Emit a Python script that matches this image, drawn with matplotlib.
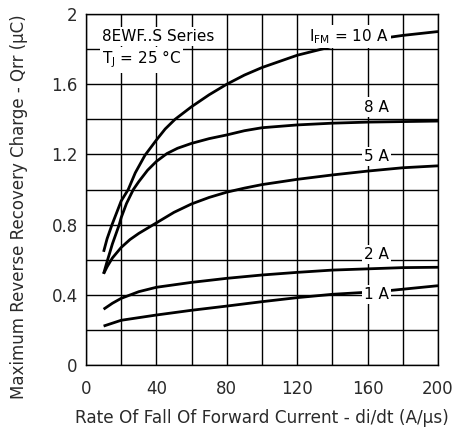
import matplotlib
matplotlib.use("Agg")
import matplotlib.pyplot as plt

# di/dt (A/us) sample points
x_10a = [10, 12, 14.8, 18, 20, 24, 28, 33.5, 40, 45, 50.6, 60, 70, 80, 90, 100, 120, 140, 160, 180, 200]
q_10a = [0.645, 0.72, 0.80, 0.883, 0.935, 1.0, 1.095, 1.195, 1.282, 1.345, 1.4, 1.472, 1.54, 1.60, 1.652, 1.695, 1.765, 1.815, 1.85, 1.878, 1.90]

x_8a = [10, 12, 15, 18.9, 20, 23, 26.9, 30, 35, 40, 46, 52, 60, 70, 80, 90, 100, 120, 140, 160, 180, 200]
q_8a = [0.52, 0.59, 0.69, 0.80, 0.84, 0.92, 1.0, 1.045, 1.11, 1.16, 1.205, 1.235, 1.263, 1.29, 1.311, 1.335, 1.352, 1.368, 1.378, 1.384, 1.387, 1.39]

x_5a = [10, 12, 15, 20, 25, 30, 35, 40, 50, 60, 70, 80, 90, 100, 120, 140, 160, 180, 200]
q_5a = [0.52, 0.56, 0.61, 0.67, 0.715, 0.75, 0.78, 0.81, 0.87, 0.918, 0.955, 0.985, 1.008, 1.028, 1.058, 1.083, 1.105, 1.124, 1.135]

x_2a = [10, 15, 20, 30, 40, 60, 80, 100, 120, 140, 160, 180, 200]
q_2a = [0.318, 0.352, 0.38, 0.418, 0.443, 0.471, 0.494, 0.513, 0.528, 0.541, 0.548, 0.555, 0.557]

x_1a = [10, 20, 40, 60, 80, 100, 120, 140, 160, 172, 200]
q_1a = [0.222, 0.255, 0.285, 0.312, 0.336, 0.361, 0.384, 0.403, 0.415, 0.424, 0.452]

x_ticks = [0, 40, 80, 120, 160, 200]
y_ticks = [0, 0.4, 0.8, 1.2, 1.6, 2]
y_tick_labels = ["0", "0.4", "0.8", "1.2", "1.6", "2"]

fig = plt.figure(figsize=(4.54, 4.32), dpi=100)
ax = fig.add_axes([0.1894, 0.155, 0.7754, 0.8126])

for xs, ys in [(x_10a, q_10a), (x_8a, q_8a), (x_5a, q_5a), (x_2a, q_2a), (x_1a, q_1a)]:
    ax.plot(xs, ys, color="black", lw=2.0, solid_capstyle="butt",
            solid_joinstyle="round", zorder=3)

ax.set_xlim(0, 200)
ax.set_ylim(0, 2)
ax.set_xticks(x_ticks)
ax.set_yticks(y_ticks)
ax.set_yticklabels(y_tick_labels)
ax.set_xticks(range(0, 201, 20), minor=True)
ax.set_yticks([i * 0.2 for i in range(11)], minor=True)
ax.grid(True, which="both", color="black", lw=1.0, zorder=1)
ax.set_axisbelow(True)
ax.tick_params(which="both", length=0, labelsize=12, labelcolor="#2a2a2a")
ax.tick_params(axis="x", pad=11)
ax.tick_params(axis="y", pad=6)
for s in ax.spines.values():
    s.set_linewidth(1.0)

ax.set_xlabel("Rate Of Fall Of Forward Current - di/dt (A/\u00b5s)", fontsize=12.2, color="#2a2a2a", labelpad=8)
ax.set_ylabel("Maximum Reverse Recovery Charge - Qrr (\u00b5C)", fontsize=12, color="#2a2a2a")
ax.yaxis.set_label_coords(-0.165, 0.45)

box = dict(facecolor="white", edgecolor="none", pad=1.5)
ax.text(9, 1.87, "8EWF..S Series", fontsize=11, va="center", ha="left", bbox=box, zorder=5)
ax.text(9, 1.74, "T$_{\\rm J}$ = 25 \u00b0C", fontsize=11, va="center", ha="left", bbox=box, zorder=5)
ax.text(172, 1.87, "I$_{\\rm FM}$ = 10 A", fontsize=11, va="center", ha="right", bbox=box, zorder=5)
ax.text(172, 1.47, "8 A", fontsize=11, va="center", ha="right", bbox=box, zorder=5)
ax.text(172, 1.19, "5 A", fontsize=11, va="center", ha="right", bbox=box, zorder=5)
ax.text(172, 0.63, "2 A", fontsize=11, va="center", ha="right", bbox=box, zorder=5)
ax.text(172, 0.40, "1 A", fontsize=11, va="center", ha="right", bbox=box, zorder=5)

fig.savefig("out.png", dpi=100)
